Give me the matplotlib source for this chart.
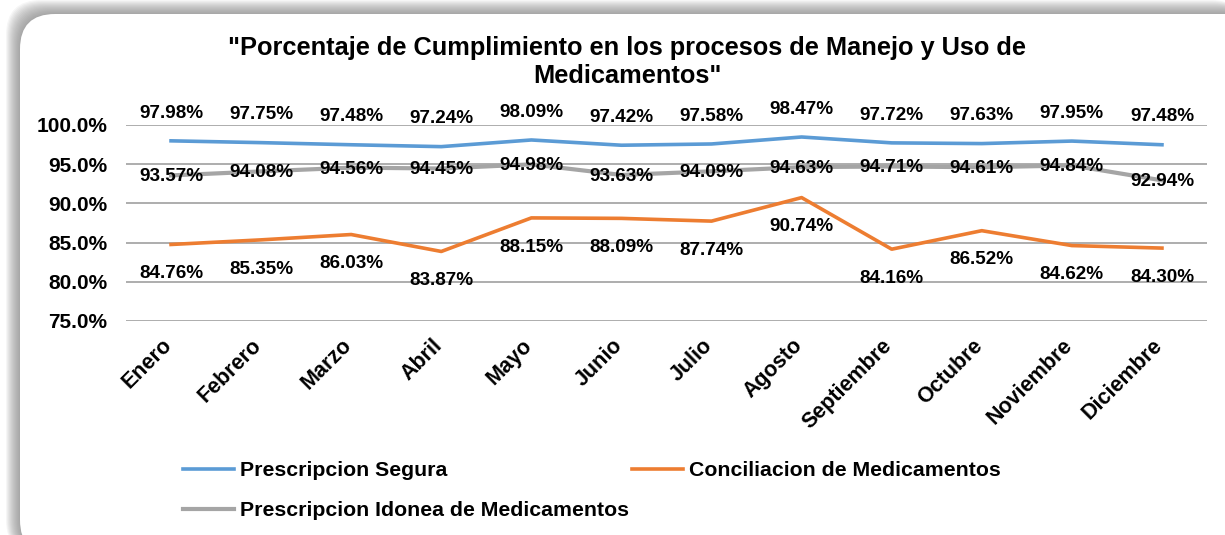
import matplotlib.pyplot as plt
import matplotlib.transforms as mtransforms
from matplotlib.patches import FancyBboxPatch

plt.rcParams['font.family'] = ['Liberation Sans', 'DejaVu Sans']
plt.rcParams['font.weight'] = 'bold'

meses = ['Enero', 'Febrero', 'Marzo', 'Abril', 'Mayo', 'Junio', 'Julio',
         'Agosto', 'Septiembre', 'Octubre', 'Noviembre', 'Diciembre']
segura = [97.98, 97.75, 97.48, 97.24, 98.09, 97.42, 97.58, 98.47, 97.72, 97.63, 97.95, 97.48]
conciliacion = [84.76, 85.35, 86.03, 83.87, 88.15, 88.09, 87.74, 90.74, 84.16, 86.52, 84.62, 84.30]
idonea = [93.57, 94.08, 94.56, 94.45, 94.98, 93.63, 94.09, 94.63, 94.71, 94.61, 94.84, 92.94]
y_ticks = [75, 80, 85, 90, 95, 100]

azul = '#5B9BD5'
naranja = '#ED7D31'
gris = '#A5A5A5'

fig = plt.figure(figsize=(12.25, 5.35), dpi=100)
fig.patch.set_facecolor('white')

# marco redondeado con sombra
for k in range(14, 0, -1):
    sh = FancyBboxPatch((0.20 - k / 100, -0.2), 12.4, 5.41 + k / 100,
                        boxstyle='round,pad=0,rounding_size=0.35',
                        transform=fig.dpi_scale_trans, facecolor='#808080',
                        edgecolor='none', alpha=0.07, zorder=-5)
    fig.patches.append(sh)
marco = FancyBboxPatch((0.20, -0.2), 12.4, 5.41,
                       boxstyle='round,pad=0,rounding_size=0.35',
                       transform=fig.dpi_scale_trans, facecolor='white',
                       edgecolor='none', zorder=-4)
fig.patches.append(marco)

ax = fig.add_axes([126 / 1225, 214 / 535, 1081 / 1225, 196 / 535])
ax.set_facecolor('none')
x = list(range(len(meses)))

ax.plot(x, idonea, color=gris, lw=3, label='Prescripcion Idonea de Medicamentos', zorder=3)
ax.plot(x, conciliacion, color=naranja, lw=2.6, label='Conciliacion de Medicamentos', zorder=4)
ax.plot(x, segura, color=azul, lw=2.6, label='Prescripcion Segura', zorder=5)

for i in x:
    ax.annotate('%.2f%%' % segura[i], (i, segura[i]), xytext=(0, 20),
                textcoords='offset points', ha='center', va='center', fontsize=13.6)
    ax.annotate('%.2f%%' % idonea[i], (i, idonea[i]), xytext=(0, -1),
                textcoords='offset points', ha='center', va='center', fontsize=13.6)
    ax.annotate('%.2f%%' % conciliacion[i], (i, conciliacion[i]), xytext=(0, -21),
                textcoords='offset points', ha='center', va='center', fontsize=13.6)

ax.set_xlim(-0.5, 11.5)
ax.set_ylim(75, 100)
ax.set_yticks(y_ticks)
ax.set_yticklabels(['%.1f%%' % v for v in y_ticks], fontsize=15)
ax.set_xticks(x)
ax.set_xticklabels(meses, rotation=45, ha='right', fontsize=15.5)
ax.tick_params(axis='y', length=0, pad=13.5)
ax.tick_params(axis='x', length=0, pad=10)
desplaza = mtransforms.ScaledTranslation(5 / 100, 0, fig.dpi_scale_trans)
for t in ax.get_xticklabels():
    t.set_transform(t.get_transform() + desplaza)
ax.grid(axis='y', color='#A0A0A0', lw=1.2)
ax.set_axisbelow(True)
for s in ax.spines.values():
    s.set_visible(False)

fig.text(627 / 1225, 1 - 62 / 535,
         '"Porcentaje de Cumplimiento en los procesos de Manejo y Uso de\nMedicamentos"',
         ha='center', va='center', fontsize=18.3, fontweight='bold', linespacing=1.19)

h, l = ax.get_legend_handles_labels()
orden = [2, 0, 1]
fig.legend([h[i] for i in orden], [l[i] for i in orden], ncol=2,
           loc='upper left', bbox_to_anchor=(183 / 1225, 1 - 461 / 535),
           frameon=False, fontsize=15.3, handlelength=2.4, handletextpad=0.3,
           columnspacing=0.1, labelspacing=1.0, borderpad=0, borderaxespad=0)

fig.savefig('out.png', dpi=100)
